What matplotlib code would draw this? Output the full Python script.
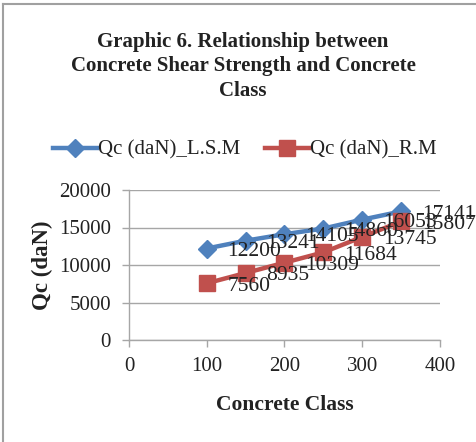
import matplotlib
matplotlib.use("Agg")
import matplotlib.pyplot as plt
from matplotlib.lines import Line2D

# Concrete class vs shear strength data
concrete_class = [100, 150, 200, 250, 300, 350]
qc_lsm = [12200, 13241, 14105, 14860, 16053, 17141]
qc_rm = [7560, 8935, 10309, 11684, 13745, 15807]
series_names = ["Qc (daN)_L.S.M", "Qc (daN)_R.M"]
x_ticks = [0, 100, 200, 300, 400]
y_ticks = [0, 5000, 10000, 15000, 20000]

BLUE = "#4F81BD"
RED = "#C0504D"
GRID = "#A6A6A6"
TEXT = "#222222"

plt.rcParams["font.family"] = ["Liberation Serif", "DejaVu Serif"]

W, H = 477, 442
fig = plt.figure(figsize=(W / 100, H / 100), dpi=100)

def fx(px):
    return px / W

def fy(py):
    return 1 - py / H

# chart-area border (top and left edges)
fig.add_artist(Line2D([fx(3), fx(3)], [fy(4), 0], transform=fig.transFigure,
                      color="#A0A0A0", lw=1.5))
fig.add_artist(Line2D([fx(3), 1], [fy(4), fy(4)], transform=fig.transFigure,
                      color="#A0A0A0", lw=1.5))

ax = fig.add_axes([fx(129), fy(340), fx(440) - fx(129), fy(190) - fy(340)])
ax.set_xlim(0, 400)
ax.set_ylim(0, 20000)
ax.set_xticks(x_ticks)
ax.set_yticks(y_ticks)
ax.tick_params(axis="both", labelsize=15, colors=GRID, labelcolor=TEXT,
               length=5, width=1)
ax.tick_params(axis="x", pad=7)
ax.tick_params(axis="y", pad=8)
ax.yaxis.grid(True, color=GRID, lw=1)
ax.set_axisbelow(True)
for s in ["top", "right"]:
    ax.spines[s].set_visible(False)
for s in ["left", "bottom"]:
    ax.spines[s].set_color(GRID)
    ax.spines[s].set_linewidth(1)

l1, = ax.plot(concrete_class, qc_lsm, color=BLUE, lw=3.2, marker="D",
              markersize=9, label=series_names[0], clip_on=False, zorder=3)
l2, = ax.plot(concrete_class, qc_rm, color=RED, lw=3.2, marker="s",
              markersize=11, label=series_names[1], clip_on=False, zorder=3)

for xs, ys in [(concrete_class, qc_lsm), (concrete_class, qc_rm)]:
    for x, y in zip(xs, ys):
        ax.annotate(f"{y}", (x, y), xytext=(15, -2), textcoords="offset points",
                    ha="left", va="center", fontsize=15.5, color=TEXT, zorder=4,
                    annotation_clip=False)

ax.set_xlabel("Concrete Class", fontsize=15.5, fontweight="bold", color=TEXT,
              labelpad=14)
ax.set_ylabel("Qc (daN)", fontsize=16.5, fontweight="bold", color=TEXT,
              labelpad=4)

fig.text(fx(243), fy(66), "Graphic 6. Relationship between\nConcrete Shear Strength and Concrete\nClass",
         ha="center", va="center", fontsize=15, fontweight="bold", color=TEXT,
         linespacing=1.3)

fig.legend(handles=[l1, l2], loc="center", bbox_to_anchor=(fx(245), fy(150)),
           ncol=2, frameon=False, fontsize=15, handlelength=2.1,
           handletextpad=0.05, columnspacing=1.2, labelcolor=TEXT)

fig.savefig("out.png", dpi=100, facecolor="white")
